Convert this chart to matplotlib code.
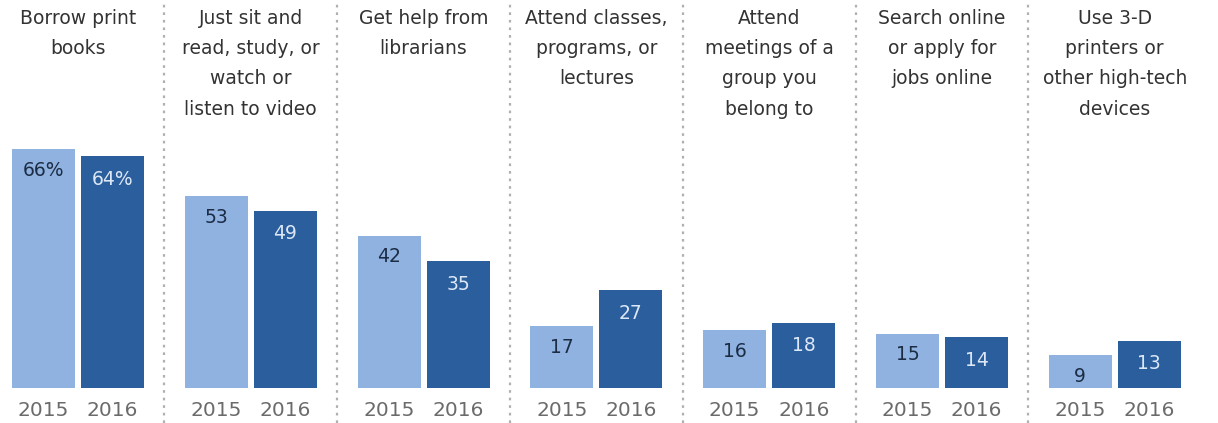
import matplotlib
matplotlib.use("Agg")
import matplotlib.pyplot as plt
import matplotlib.transforms as mtransforms

categories = [
    "Borrow print\nbooks",
    "Just sit and\nread, study, or\nwatch or\nlisten to video",
    "Get help from\nlibrarians",
    "Attend classes,\nprograms, or\nlectures",
    "Attend\nmeetings of a\ngroup you\nbelong to",
    "Search online\nor apply for\njobs online",
    "Use 3-D\nprinters or\nother high-tech\ndevices",
]
years = ["2015", "2016"]
values_2015 = [66, 53, 42, 17, 16, 15, 9]
values_2016 = [64, 49, 35, 27, 18, 14, 13]
labels_2015 = ["66%", "53", "42", "17", "16", "15", "9"]
labels_2016 = ["64%", "49", "35", "27", "18", "14", "13"]

light = "#8fb2e0"
dark = "#2b5e9c"
plt.rcParams["font.family"] = ["DejaVu Sans"]

W, H = 1218, 423
fig = plt.figure(figsize=(W / 100, H / 100), dpi=100)
ax = fig.add_axes([0, 35 / H, 1, 388 / H])
ax.set_xlim(-78 / 172.8, (W - 78) / 172.8)
ax.set_ylim(0, 388 / 3.62)
ax.axis("off")

n = len(categories)
off = 0.2
w = 63 / 172.8
xs = list(range(n))
ax.bar([x - off for x in xs], values_2015, width=w, color=light)
ax.bar([x + off for x in xs], values_2016, width=w, color=dark)

for x, v, lab in zip(xs, values_2015, labels_2015):
    ax.annotate(lab, (x - off, v), xytext=(0, -21), textcoords="offset pixels",
                ha="center", va="center", fontsize=13.5, color="#1c2c45")
    ax.annotate(years[0], (x - off, 0), xytext=(0, -22), textcoords="offset pixels",
                ha="center", va="center", fontsize=14.5, color="#6b6b6b",
                annotation_clip=False)
for x, v, lab in zip(xs, values_2016, labels_2016):
    ax.annotate(lab, (x + off, v), xytext=(0, -23), textcoords="offset pixels",
                ha="center", va="center", fontsize=13.5, color="#dde8f7")
    ax.annotate(years[1], (x + off, 0), xytext=(0, -22), textcoords="offset pixels",
                ha="center", va="center", fontsize=14.5, color="#6b6b6b",
                annotation_clip=False)

trans = mtransforms.blended_transform_factory(ax.transData, ax.transAxes)
for x, t in zip(xs, categories):
    ax.text(x, 1 - 9 / 388, t, transform=trans, ha="center", va="top",
            fontsize=13.5, color="#333333", linespacing=1.75)

for i in range(n - 1):
    ax.axvline(i + 0.5, ymin=-35 / 388, ymax=1, color="#b0b0b0",
               linestyle=(0, (1.2, 2.2)), linewidth=1.6, clip_on=False)

fig.savefig("out.png", dpi=100, facecolor="white")
